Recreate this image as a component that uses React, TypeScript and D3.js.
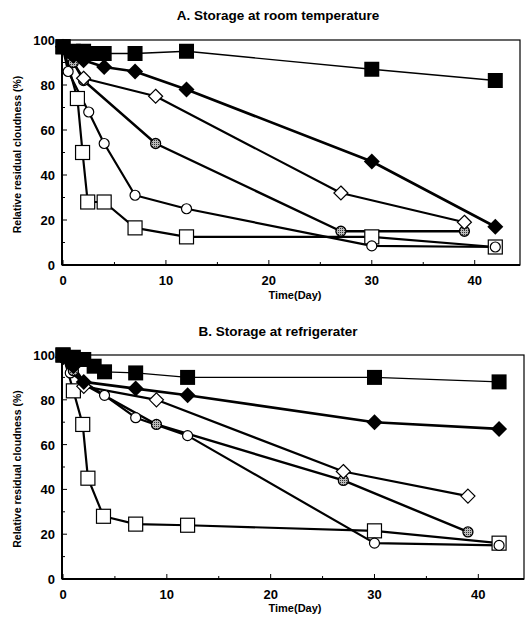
import React from "react";
import * as d3 from "d3";

// ---------- Data ----------
// A. Storage at room temperature
const aFilledSquareDays = [0, 1, 2, 3, 4, 7, 12, 30, 42];
const aFilledSquareVals = [97, 95, 95, 94, 94, 94, 95, 87, 82];
const aFilledDiamondDays = [0, 1, 2, 4, 7, 12, 30, 42];
const aFilledDiamondVals = [97, 93, 91, 88, 86, 78, 46, 17];
const aOpenDiamondDays = [0, 2, 9, 27, 39];
const aOpenDiamondVals = [97, 83, 75, 32, 19];
const aHatchedDays = [0, 1, 2, 9, 27, 39];
const aHatchedVals = [97, 90, 82, 54, 15, 15];
const aOpenCircleDays = [0, 0.5, 2.5, 4, 7, 12, 30, 42];
const aOpenCircleVals = [96, 86, 68, 54, 31, 25, 8.5, 8];
const aOpenSquareDays = [0, 1.4, 1.9, 2.4, 4, 7, 12, 30, 42];
const aOpenSquareVals = [97, 74, 50, 28, 28, 16.5, 12.5, 12.5, 8];

// B. Storage at refrigerater
const bFilledSquareDays = [0, 1, 2, 3, 4, 7, 12, 30, 42];
const bFilledSquareVals = [100, 99, 98, 95, 92.5, 92, 90, 90, 88];
const bFilledDiamondDays = [0, 1, 2, 7, 12, 30, 42];
const bFilledDiamondVals = [99, 95, 88, 85, 82, 70, 67];
const bOpenDiamondDays = [0, 2, 9, 27, 39];
const bOpenDiamondVals = [99, 86, 80, 48, 37];
const bHatchedDays = [0, 1, 2, 9, 27, 39];
const bHatchedVals = [99, 93, 87, 69, 44, 21];
const bOpenCircleDays = [0, 0.7, 4, 7, 12, 30, 42];
const bOpenCircleVals = [100, 92, 82, 72, 64, 16, 15];
const bOpenSquareDays = [0, 1, 1.9, 2.4, 3.9, 7, 12, 30, 42];
const bOpenSquareVals = [100, 84, 69, 45, 28, 24.5, 24, 21.5, 16];

const xTicks = [0, 10, 20, 30, 40];
const yTicks = [0, 20, 40, 60, 80, 100];

type Marker = "fsquare" | "fdiamond" | "odiamond" | "hcircle" | "ocircle" | "osquare";
type Series = { days: number[]; vals: number[]; marker: Marker; lw: number };

const seriesA: Series[] = [
  { days: aOpenSquareDays, vals: aOpenSquareVals, marker: "osquare", lw: 2.2 },
  { days: aOpenCircleDays, vals: aOpenCircleVals, marker: "ocircle", lw: 2.2 },
  { days: aHatchedDays, vals: aHatchedVals, marker: "hcircle", lw: 2.4 },
  { days: aOpenDiamondDays, vals: aOpenDiamondVals, marker: "odiamond", lw: 2.2 },
  { days: aFilledDiamondDays, vals: aFilledDiamondVals, marker: "fdiamond", lw: 2.6 },
  { days: aFilledSquareDays, vals: aFilledSquareVals, marker: "fsquare", lw: 1.3 },
];
const seriesB: Series[] = [
  { days: bOpenSquareDays, vals: bOpenSquareVals, marker: "osquare", lw: 2.2 },
  { days: bOpenCircleDays, vals: bOpenCircleVals, marker: "ocircle", lw: 2.2 },
  { days: bHatchedDays, vals: bHatchedVals, marker: "hcircle", lw: 2.4 },
  { days: bOpenDiamondDays, vals: bOpenDiamondVals, marker: "odiamond", lw: 2.2 },
  { days: bFilledDiamondDays, vals: bFilledDiamondVals, marker: "fdiamond", lw: 2.6 },
  { days: bFilledSquareDays, vals: bFilledSquareVals, marker: "fsquare", lw: 1.3 },
];

const FONT = "'Liberation Sans', Arial, sans-serif";

function MarkerShape({ m, x, y }: { m: Marker; x: number; y: number }) {
  switch (m) {
    case "fsquare":
      return <rect x={x - 7.5} y={y - 7.5} width={15} height={15} fill="#000" />;
    case "osquare":
      return <rect x={x - 7} y={y - 7} width={14} height={14} fill="#fff" stroke="#000" strokeWidth={1.2} />;
    case "fdiamond":
      return <path d={`M${x},${y - 8}L${x + 8},${y}L${x},${y + 8}L${x - 8},${y}Z`} fill="#000" />;
    case "odiamond":
      return <path d={`M${x},${y - 7}L${x + 7},${y}L${x},${y + 7}L${x - 7},${y}Z`} fill="#fff" stroke="#000" strokeWidth={1.2} />;
    case "hcircle":
      return <circle cx={x} cy={y} r={5} fill="url(#hatch)" stroke="#000" strokeWidth={1.3} />;
    case "ocircle":
      return <circle cx={x} cy={y} r={5} fill="#fff" stroke="#000" strokeWidth={1.2} />;
  }
}

function Panel({
  series, title, left, right, top, bottom, titleY, xLabelY,
}: {
  series: Series[]; title: string; left: number; right: number; top: number; bottom: number;
  titleY: number; xLabelY: number;
}) {
  const x = d3.scaleLinear().domain([0, 44.4]).range([left + 1, right]);
  const y = d3.scaleLinear().domain([0, 100]).range([bottom, top]);
  const line = d3.line<[number, number]>().x((d) => x(d[0])).y((d) => y(d[1]));
  const minorX = d3.range(5, 45, 10);
  const minorY = d3.range(10, 100, 20);
  return (
    <g>
      <text x={278} y={titleY} textAnchor="middle" fontFamily={FONT} fontSize={13.5} fontWeight="bold">{title}</text>
      <rect x={left} y={top} width={right - left} height={bottom - top} fill="none" stroke="#000" strokeWidth={1.2} />
      <line x1={left} x2={left} y1={top} y2={bottom} stroke="#000" strokeWidth={2} />
      <line x1={left} x2={right} y1={bottom} y2={bottom} stroke="#000" strokeWidth={2} />
      {xTicks.map((t) => (
        <g key={"xt" + t}>
          <line x1={x(t)} x2={x(t)} y1={bottom} y2={bottom - 5} stroke="#000" strokeWidth={1} />
          <text x={x(t)} y={bottom + 20} textAnchor="middle" fontFamily={FONT} fontSize={13} fontWeight="bold">{t}</text>
        </g>
      ))}
      {minorX.map((t) => (
        <line key={"mx" + t} x1={x(t)} x2={x(t)} y1={bottom} y2={bottom - 3} stroke="#000" strokeWidth={1} />
      ))}
      {yTicks.map((t) => (
        <g key={"yt" + t}>
          <line x1={left} x2={left + 5} y1={y(t)} y2={y(t)} stroke="#000" strokeWidth={1} />
          <text x={left - 7} y={y(t) + 5} textAnchor="end" fontFamily={FONT} fontSize={13} fontWeight="bold">{t}</text>
        </g>
      ))}
      {minorY.map((t) => (
        <line key={"my" + t} x1={left} x2={left + 3} y1={y(t)} y2={y(t)} stroke="#000" strokeWidth={1} />
      ))}
      <text x={295} y={xLabelY} textAnchor="middle" fontFamily={FONT} fontSize={11} fontWeight="bold">Time(Day)</text>
      <text
        transform={`translate(21,${(top + bottom) / 2 + 2}) rotate(-90)`}
        textAnchor="middle" fontFamily={FONT} fontSize={10.5} fontWeight="bold"
      >Relative residual cloudness (%)</text>
      {series.map((s, i) => (
        <path key={"l" + i} d={line(s.days.map((d, j) => [d, s.vals[j]] as [number, number])) || ""}
          fill="none" stroke="#000" strokeWidth={s.lw} strokeLinejoin="round" />
      ))}
      {series.map((s, i) => (
        <g key={"m" + i}>
          {s.days.map((d, j) => (
            <MarkerShape key={j} m={s.marker} x={x(d)} y={y(s.vals[j])} />
          ))}
        </g>
      ))}
    </g>
  );
}

export default function App() {
  return (
    <svg width={525} height={624} style={{ position: "absolute", left: 0, top: 0, background: "#fff" }}>
      <defs>
        <pattern id="hatch" width={2} height={2} patternUnits="userSpaceOnUse">
          <rect width={2} height={2} fill="#bbb" />
          <rect width={1} height={1} fill="#333" />
        </pattern>
      </defs>
      <rect width={525} height={624} fill="#fff" />
      <Panel series={seriesA} title="A. Storage at room temperature" left={62} right={520} top={40} bottom={265} titleY={20} xLabelY={299} />
      <Panel series={seriesB} title="B. Storage at refrigerater" left={62} right={524} top={355} bottom={579} titleY={336} xLabelY={612} />
    </svg>
  );
}
